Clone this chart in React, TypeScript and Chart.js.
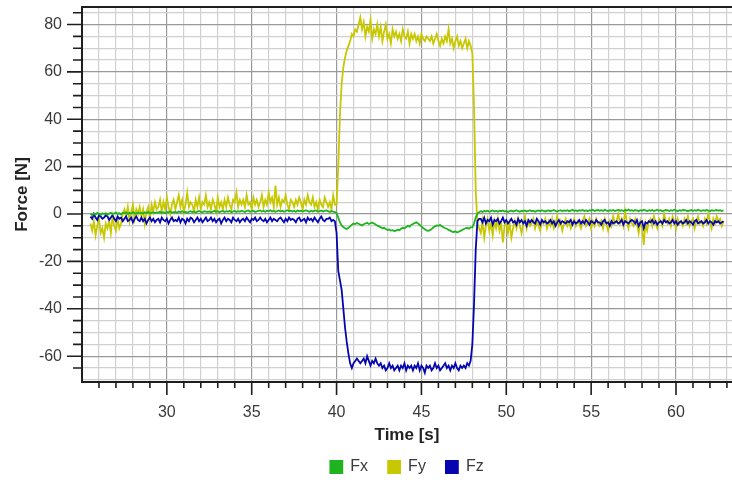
import React, { useEffect, useRef } from "react";
import { Chart, registerables } from "chart.js";

Chart.register(...registerables);

// Sampling grid: first sample time and step (s)
const T0 = 25.5;
const DT = 0.1;

// Fx [N], one row per second starting at 25.5 s
const fxValues: number[] = [
  0.2, -0.5, 0.3, -0.2, 0.5, 0.1, -0.4, 0.3, 0.0, 0.4,
  -0.3, 0.2, 0.5, -0.1, 0.3, 0.6, 0.0, 0.4, -0.2, 0.5,
  0.3, 0.7, 0.1, 0.5, 0.2, 0.8, 0.4, 0.1, 0.6, 0.3,
  0.5, 0.2, 0.7, 0.4, 0.9, 0.3, 0.6, 0.8, 0.4, 0.7,
  0.6, 1.0, 0.5, 0.8, 0.4, 0.9, 0.7, 1.1, 0.6, 0.8,
  0.9, 0.6, 1.1, 0.8, 1.2, 0.7, 1.0, 0.5, 0.9, 1.2,
  0.8, 1.1, 0.6, 1.0, 1.3, 0.9, 0.7, 1.2, 1.0, 0.8,
  1.1, 0.7, 1.0, 1.4, 0.9, 1.2, 0.8, 1.1, 1.3, 0.9,
  1.2, 1.0, 1.4, 0.8, 1.1, 1.3, 0.9, 1.2, 1.0, 1.4,
  1.1, 0.9, 1.3, 1.5, 1.0, 1.2, 1.4, 0.9, 1.1, 1.3,
  1.5, 1.1, 1.3, 1.0, 1.4, 1.2, 1.6, 1.1, 1.3, 1.0,
  1.2, 1.5, 1.1, 1.4, 1.0, 1.3, 1.6, 1.2, 1.4, 1.1,
  1.3, 1.0, 1.5, 1.2, 1.4, 1.1, 1.3, 1.6, 1.2, 1.0,
  1.4, 1.1, 1.3, 1.5, 1.0, 1.2, 1.4, 1.1, 1.3, 1.5,
  1.2, 0.9, 1.3, 1.0, 0.8, 0.5, -1.5, -3.5, -4.8, -5.5,
  -6.0, -6.3, -5.8, -5.2, -4.5, -4.0, -4.2, -3.8, -4.1, -4.5,
  -4.8, -4.3, -4.0, -3.7, -4.2, -3.9, -3.6, -4.0, -4.4, -4.9,
  -5.2, -5.6, -6.0, -5.8, -6.3, -6.7, -6.5, -7.0, -6.8, -7.2,
  -7.0, -6.6, -6.8, -6.2, -5.8, -6.0, -5.5, -5.0, -5.3, -4.6,
  -4.2, -3.8, -3.5, -4.0, -4.6, -5.2, -5.9, -6.4, -6.9, -7.1,
  -6.8, -6.3, -5.7, -5.2, -4.8, -5.0, -4.6, -5.2, -5.6, -6.0,
  -6.2, -6.7, -7.0, -7.4, -7.6, -7.3, -7.8, -7.5, -7.1, -6.7,
  -6.3, -6.0, -5.8, -6.2, -5.6, -5.6, -4.0, -1.5, 0.2, 0.8,
  1.2, 0.9, 1.3, 1.1, 1.4, 1.0, 1.2, 1.5, 1.1, 1.3,
  1.0, 1.4, 1.2, 1.5, 1.1, 1.3, 0.9, 1.2, 1.4, 1.1,
  1.3, 1.6, 1.2, 1.0, 1.4, 1.2, 1.5, 1.1, 1.3, 1.6,
  1.2, 1.4, 1.0, 1.3, 1.5, 1.2, 1.6, 1.3, 1.1, 1.4,
  1.5, 1.2, 1.4, 1.7, 1.3, 1.1, 1.4, 1.6, 1.2, 1.5,
  1.3, 1.6, 1.2, 1.4, 1.8, 1.3, 1.5, 1.2, 1.6, 1.4,
  1.7, 1.3, 1.5, 1.2, 1.6, 1.4, 1.8, 1.3, 1.5, 1.7,
  1.4, 1.6, 1.3, 1.8, 1.5, 1.2, 1.6, 1.4, 1.7, 1.3,
  1.5, 1.8, 1.4, 1.6, 1.3, 1.7, 1.5, 1.9, 1.4, 1.6,
  1.3, 1.7, 1.5, 1.2, 1.6, 1.4, 1.8, 1.5, 1.3, 1.6,
  1.4, 1.7, 1.3, 1.5, 1.8, 1.4, 1.6, 1.2, 1.5, 1.7,
  1.5, 1.3, 1.6, 1.4, 1.8, 1.5, 1.2, 1.6, 1.4, 1.7,
  1.6, 1.4, 1.2, 1.5, 1.7, 1.3, 1.6, 1.4, 1.8, 1.5,
  1.3, 1.6, 1.4, 1.7, 1.5, 1.2, 1.6, 1.4, 1.5, 1.7,
  1.4, 1.6, 1.3, 1.5,
];

// Fy [N]
const fyValues: number[] = [
  -4, -7, -3, -9, -5, -2, -8, -6, -10, -4,
  -6, -3, -8, -1, -5, -7, -2, -6, -4, 0,
  2, -1, 3, -3, 1, 4, -2, 2, 0, 3,
  -1, 2, -4, 1, 3, -2, 4, 1, 5, 2,
  3, 6, 1, 5, 2, 7, 3, 0, 4, 6,
  2, 5, 8, 3, 6, 1, 4, 9, 3, 5,
  4, 1, 6, 3, 7, 2, 5, 4, 8, 3,
  5, 2, 6, 4, 1, 7, 3, 5, 2, 6,
  3, 7, 4, 2, 6, 5, 9, 3, 6, 4,
  6, 3, 8, 4, 5, 2, 7, 4, 6, 3,
  5, 8, 3, 6, 4, 9, 5, 7, 3, 12,
  4, 7, 3, 6, 5, 8, 4, 2, 6, 5,
  3, 6, 4, 7, 5, 2, 6, 4, 8, 5,
  4, 7, 3, 5, 2, 6, 4, 3, 7, 5,
  3, 5, 2, 8, 4, 4, 20, 42, 55, 62,
  66, 69, 71, 73, 76, 75, 78, 77, 80, 83,
  78, 81, 75, 79, 77, 82, 74, 78, 76, 80,
  75, 79, 73, 77, 80, 74, 76, 72, 78, 75,
  77, 74, 76, 73, 78, 75, 74, 77, 72, 76,
  74, 76, 73, 75, 72, 76, 74, 73, 75, 74,
  73, 75, 72, 74, 76, 73, 71, 74, 72, 75,
  73, 78, 72, 74, 70, 73, 75, 71, 73, 70,
  72, 74, 70, 73, 71, 68, 45, 10, -4, -6,
  -8, -3, -10, -5, -2, -7, -4, -9, -3, -6,
  -2, -7, -4, -12, -5, -3, -8, -4, -10, -6,
  -3, -6, -2, -5, -8, -4, -1, -6, -3, -5,
  -4, -2, -6, -3, -5, -7, -3, -4, -2, -6,
  -3, -5, -2, -6, -4, -1, -5, -3, -7, -4,
  -2, -5, -3, -6, -4, -2, -5, -3, -4, -6,
  -3, -1, -5, -4, -2, -6, -3, -5, -2, -4,
  -5, -3, -6, -2, -4, -7, -3, -5, -1, -4,
  -3, 0, -4, -2, -5, 1, -3, -6, -2, -4,
  -5, -2, -4, -8, -3, -6, -13, -4, -7, -3,
  -2, -5, -1, -4, -6, -2, -3, -5, 0, -3,
  -4, -2, -5, -1, -3, -6, -2, -4, -3, -5,
  -2, -4, -1, -5, -3, -2, -6, -3, -1, -4,
  -3, -5, -2, -4, 0, -3, -6, -2, -4, -1,
  -3, -2, -5, -3,
];

// Fz [N]
const fzValues: number[] = [
  -1, -2, 0, -1.5, -2.5, -0.5, -1, -2, -1.5, -0.5,
  -1, -2.5, -1.5, -0.5, -2, -3, -1, -2, -1.5, -3,
  -2, -1, -3, -2.5, -1.5, -3.5, -2, -1, -2.5, -3,
  -1.5, -3, -2, -4, -2.5, -1.5, -3, -2, -3.5, -2.5,
  -2, -3.5, -1.5, -2.5, -3, -2, -4, -2.5, -1.5, -3,
  -2.5, -3, -1.5, -3.5, -2, -2.5, -4, -2, -3, -1.5,
  -2, -3.5, -2.5, -1.5, -3, -2, -3.5, -2.5, -1.5, -3,
  -2.5, -1.5, -3, -2, -3.5, -2.5, -2, -4, -2.5, -1.5,
  -3, -2, -2.5, -3.5, -1.5, -2.5, -3, -2, -3.5, -2.5,
  -2, -3, -1.5, -2.5, -3.5, -2, -2.5, -1.5, -3, -2.5,
  -1.5, -2.5, -3, -2, -3.5, -2.5, -1.5, -3, -2, -2.5,
  -3, -2, -1.5, -2.5, -3.5, -2, -3, -1.5, -2.5, -2,
  -2.5, -3.5, -2, -1.5, -3, -2.5, -2, -3.5, -1.5, -2.5,
  -2, -3, -1.5, -2.5, -3.5, -2, -1, -2.5, -3, -2,
  -2, -1.5, -3, -2.5, -3, -8, -24, -28, -32, -40,
  -48, -54, -59, -63, -65, -63, -62, -61, -62, -63,
  -62, -61, -63, -60, -62, -64, -62, -63, -61, -63,
  -64, -63, -65, -64, -66, -65, -63, -65, -64, -66,
  -65, -64, -66, -64, -65, -63, -66, -64, -65, -64,
  -66, -64, -65, -63, -66, -64, -65, -67, -64, -65,
  -64, -66, -65, -63, -65, -64, -66, -65, -64, -63,
  -65, -64, -66, -64, -65, -63, -65, -66, -64, -65,
  -64, -65, -63, -64, -62, -55, -38, -15, -3, -2,
  -2, -3.5, -1.5, -4, -2.5, -3, -1.5, -4.5, -2.5, -3,
  -2, -4, -3, -1.5, -3.5, -2.5, -4, -3, -2, -3.5,
  -3, -4.5, -2, -3.5, -2.5, -4, -3, -5, -2.5, -3.5,
  -2.5, -3.5, -4, -2, -3, -4.5, -2.5, -3.5, -3, -4,
  -3.5, -2.5, -4, -3, -5, -3.5, -2.5, -4, -3, -3.5,
  -4, -3, -3.5, -2.5, -4.5, -3, -4, -3.5, -2.5, -4,
  -3, -4, -2.5, -3.5, -4.5, -3, -3.5, -4, -2.5, -3.5,
  -3.5, -4.5, -3, -2.5, -4, -3.5, -5, -3, -4, -3.5,
  -3, -4, -3.5, -2.5, -4.5, -3, -3.5, -4, -3, -2.5,
  -3, -4, -2.5, -5, -3.5, -3, -6, -3.5, -4, -3,
  -3.5, -2.5, -4, -3, -4.5, -3.5, -3, -4, -2.5, -3.5,
  -3, -4, -3.5, -2.5, -4, -3, -4.5, -3.5, -3, -4,
  -3.5, -2.5, -4, -3, -3.5, -4.5, -3, -2.5, -4, -3.5,
  -3, -4, -3.5, -2.5, -4, -3, -3.5, -4.5, -3, -3.5,
  -3, -4, -3.5, -3,
];

const seriesNames = ["Fx", "Fy", "Fz"];
const seriesColors = ["#1fb41f", "#c8c800", "#0606b0"];

// Axes
const X_MIN = 25;
const X_MAX = 63.3;
const Y_MIN = -70.9;
const Y_MAX = 87.4;
const xTickLabels = [30, 35, 40, 45, 50, 55, 60];
const yTickLabels = [-60, -40, -20, 0, 20, 40, 60, 80];
const xMinorStep = 1;
const yMinorStep = 5;

const FONT = "'Liberation Sans', Arial, sans-serif";

const toPoints = (vals: number[]) =>
  vals.map((v, i) => ({ x: Math.round((T0 + i * DT) * 10) / 10, y: v }));

const axesPlugin = {
  id: "axesTicks",
  afterDraw(chart: any) {
    const { ctx, chartArea: a, scales } = chart;
    const xs = scales.x;
    const ys = scales.y;
    ctx.save();
    ctx.strokeStyle = "#1e1e1e";
    ctx.lineWidth = 2;
    ctx.beginPath();
    ctx.moveTo(a.left, a.top);
    ctx.lineTo(a.right, a.top);
    ctx.moveTo(a.left, a.top - 1);
    ctx.lineTo(a.left, a.bottom);
    ctx.lineTo(a.right, a.bottom);
    ctx.stroke();
    ctx.lineWidth = 1.6;
    ctx.beginPath();
    for (const t of xs.ticks) {
      const px = xs.getPixelForValue(t.value);
      if (px < a.left + 2) continue;
      const major = xTickLabels.includes(t.value);
      ctx.moveTo(px, a.bottom);
      ctx.lineTo(px, a.bottom + (major ? 13 : 6));
    }
    for (const t of ys.ticks) {
      const py = ys.getPixelForValue(t.value);
      if (py > a.bottom - 3) continue;
      const major = yTickLabels.includes(t.value);
      ctx.moveTo(a.left, py);
      ctx.lineTo(a.left - (major ? 15 : 9), py);
    }
    ctx.stroke();
    ctx.restore();
  },
};

export default function App() {
  const ref = useRef<HTMLCanvasElement | null>(null);

  useEffect(() => {
    if (!ref.current) return;
    const allData = [fxValues, fyValues, fzValues];
    const drawOrder = [0, 2, 1];
    const chart = new Chart(ref.current, {
      type: "line",
      data: {
        datasets: seriesNames.map((name, i) => ({
          label: name,
          data: toPoints(allData[i]),
          borderColor: seriesColors[i],
          backgroundColor: seriesColors[i],
          borderWidth: 1.8,
          pointRadius: 0,
          tension: 0,
          order: drawOrder[i],
        })),
      },
      options: {
        animation: false,
        responsive: false,
        devicePixelRatio: 1,
        layout: { padding: { top: 7, right: 0, bottom: 0, left: 0 } },
        plugins: {
          tooltip: { enabled: false },
          legend: {
            display: true,
            position: "bottom",
            fullSize: false,
            labels: {
              boxWidth: 12,
              boxHeight: 12,
              padding: 20,
              color: "#3a3a3a",
              font: { family: FONT, size: 16 },
              sort: (a: any, b: any) => a.datasetIndex - b.datasetIndex,
            },
          },
        },
        scales: {
          x: {
            type: "linear",
            min: X_MIN,
            max: X_MAX,
            afterBuildTicks: (scale: any) => {
              const t = [];
              for (let v = Math.ceil(X_MIN); v <= X_MAX; v += xMinorStep) t.push({ value: v });
              scale.ticks = t;
            },
            afterFit: (scale: any) => {
              scale.height = 57;
              scale.paddingLeft = 0;
              scale.paddingRight = 0;
            },
            border: { display: false },
            grid: {
              drawTicks: false,
              lineWidth: 1.2,
              color: (c: any) =>
                c.tick && xTickLabels.includes(c.tick.value) ? "#999999" : "#d0d0d0",
            },
            ticks: {
              autoSkip: false,
              maxRotation: 0,
              padding: 21,
              color: "#3a3a3a",
              font: { family: FONT, size: 16 },
              callback: (v: any) => (xTickLabels.includes(v) ? String(v) : ""),
            },
            title: {
              display: true,
              text: "Time [s]",
              color: "#222222",
              font: { family: FONT, size: 17, weight: "bold" },
              padding: { top: 0, bottom: -7 },
            },
          },
          y: {
            type: "linear",
            min: Y_MIN,
            max: Y_MAX,
            afterBuildTicks: (scale: any) => {
              const t = [];
              for (let v = Math.ceil(Y_MIN / yMinorStep) * yMinorStep; v <= Y_MAX; v += yMinorStep)
                t.push({ value: v });
              scale.ticks = t;
            },
            afterFit: (scale: any) => {
              scale.width = 82;
              scale.paddingTop = 0;
              scale.paddingBottom = 0;
            },
            border: { display: false },
            grid: {
              drawTicks: false,
              lineWidth: 1.2,
              color: (c: any) =>
                c.tick && yTickLabels.includes(c.tick.value) ? "#999999" : "#d0d0d0",
            },
            ticks: {
              autoSkip: false,
              padding: 20,
              color: "#3a3a3a",
              font: { family: FONT, size: 16 },
              callback: (v: any) => (yTickLabels.includes(v) ? String(v) : ""),
            },
            title: {
              display: true,
              text: "Force [N]",
              color: "#222222",
              font: { family: FONT, size: 17, weight: "bold" },
              padding: { top: 12, bottom: 0 },
            },
          },
        },
      },
      plugins: [axesPlugin],
    });
    return () => chart.destroy();
  }, []);

  return (
    <div style={{ position: "absolute", left: 0, top: 0, width: 732, height: 485, background: "#ffffff" }}>
      <canvas ref={ref} width={732} height={485} style={{ display: "block" }} />
    </div>
  );
}
